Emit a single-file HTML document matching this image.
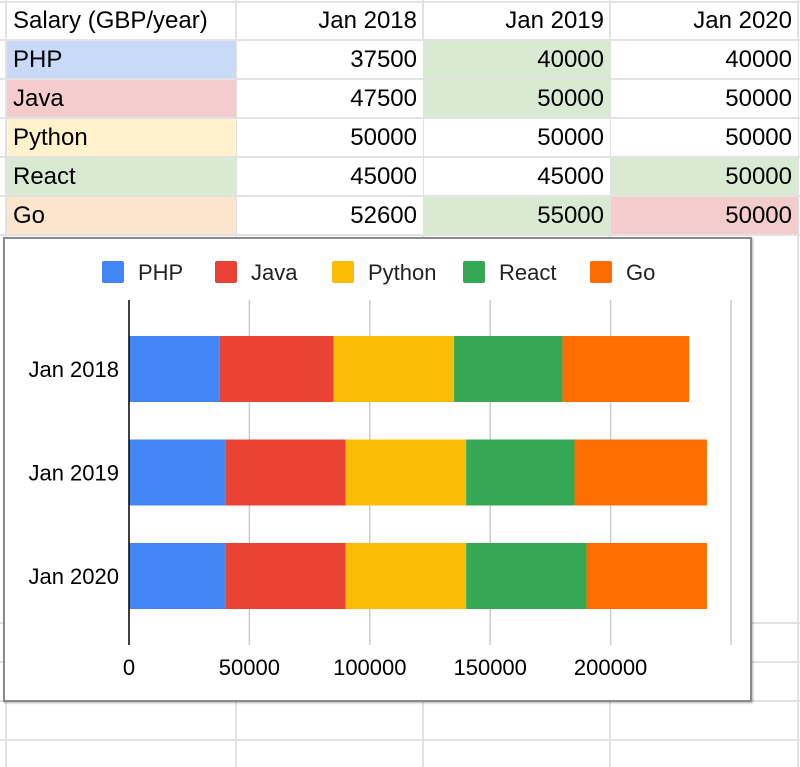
<!DOCTYPE html>
<html><head><meta charset="utf-8"><style>
body{margin:0;width:800px;height:767px;overflow:hidden;background:#fff;font-family:"Liberation Sans",Arial,sans-serif;position:relative}
.c{position:absolute;box-sizing:border-box;font-size:24px;line-height:38px;padding:0 6px;color:#000;white-space:nowrap}
.r{text-align:right}
.hl{position:absolute;background:#e2e2e2;height:2px;left:0;width:800px}
.vl{position:absolute;background:#e2e2e2;width:2px}
</style></head><body>
<div id="grid"></div>
<div id="chart" style="position:absolute;left:3px;top:237px;width:749px;height:465px;background:#fff;border:2px solid #8a8a8a;box-sizing:border-box;box-shadow:1px 1px 2px rgba(0,0,0,.3)">
<svg id="svg" width="749" height="465" style="position:absolute;left:-2px;top:-2px"></svg>
</div>
<script>
const categories=["Jan 2018","Jan 2019","Jan 2020"];
const seriesNames=["PHP","Java","Python","React","Go"];
const php=[37500,40000,40000];
const java=[47500,50000,50000];
const python=[50000,50000,50000];
const react=[45000,45000,50000];
const go=[52600,55000,50000];
const ticks=[0,50000,100000,150000,200000,250000];
const tickLabels=["0","50000","100000","150000","200000",""];
const series=[php,java,python,react,go];
const colors=["#4285f4","#ea4335","#fbbc04","#34a853","#ff6d01"];
const cellBg=["#c9daf8","#f4cccc","#fff2cc","#d9ead3","#fce5cd"];

const g=document.getElementById('grid');
const rowsY=[2,40,79,118,157,196,235];
const colsX=[6,236,423,610,798];
function add(html){g.insertAdjacentHTML('beforeend',html);}
const extraRows=[623,662,701,740];
rowsY.concat(extraRows).forEach(y=>add(`<div class="hl" style="top:${y-1}px"></div>`));
colsX.forEach(x=>add(`<div class="vl" style="left:${x-1}px;top:0;height:767px"></div>`));
add(`<div class="c" style="left:7px;top:2px;width:229px">Salary (GBP/year)</div>`);
categories.forEach((c,i)=>add(`<div class="c r" style="left:${colsX[i+1]+1}px;top:2px;width:${colsX[i+2]-colsX[i+1]-1}px">${c}</div>`));
seriesNames.forEach((n,r)=>{
  const y=rowsY[r+1]+1;
  add(`<div class="c" style="left:7px;top:${y}px;width:229px;height:37px;background:${cellBg[r]}">${n}</div>`);
  series[r].forEach((v,ci)=>{
    let bg='#fff';
    if(ci>0){const p=series[r][ci-1]; if(v>p)bg='#d9ead3'; else if(v<p)bg='#f4cccc';}
    add(`<div class="c r" style="left:${colsX[ci+1]+1}px;top:${y}px;width:${colsX[ci+2]-colsX[ci+1]-1}px;height:37px;background:${bg}">${v}</div>`);
  });
});

const svg=document.getElementById('svg');const NS='http://www.w3.org/2000/svg';
function el(t,a,txt){const e=document.createElementNS(NS,t);for(const k in a)e.setAttribute(k,a[k]);if(txt!=null)e.textContent=txt;svg.appendChild(e);return e;}
const x0=129-3, pxPer=(731-129)/250000;
const xs=v=>x0+v*pxPer;
const yCenter=i=>(336-237)+33+i*((543-336)/2);
const barH=66;
const FS=22;
ticks.forEach((t,i)=>{
  if(i>0){const l=el('line',{x1:xs(t),x2:xs(t),y1:300-237,y2:645-237,stroke:'#cccccc','stroke-width':1.5});
  }
  const tx=el('text',{x:xs(t),y:675-237,'text-anchor':'middle','font-size':FS,fill:'#000','font-family':'Liberation Sans, sans-serif'},tickLabels[i]);
  
});
categories.forEach((c,i)=>{
  let acc=0;
  series.forEach((s,si)=>{
    const r=el('rect',{x:xs(acc),y:yCenter(i)-barH/2,width:xs(acc+s[i])-xs(acc),height:barH,fill:colors[si]});
    
    
    acc+=s[i];
  });
  const tx=el('text',{x:119-3,y:yCenter(i)+8,'text-anchor':'end','font-size':FS,fill:'#000','font-family':'Liberation Sans, sans-serif'},c);
  
});
const ax=el('line',{x1:x0,x2:x0,y1:300-237,y2:645-237,stroke:'#000','stroke-width':1.5});

const legX=[102,215,332,463,590];
seriesNames.forEach((n,i)=>{
  const sq=el('rect',{x:legX[i]-3,y:261-237,width:22,height:22,rx:2,fill:colors[i]});
  
  const tx=el('text',{x:legX[i]-3+36,y:280-237,'font-size':FS,fill:'#222','font-family':'Liberation Sans, sans-serif'},n);
  
});
</script>
</body></html>
